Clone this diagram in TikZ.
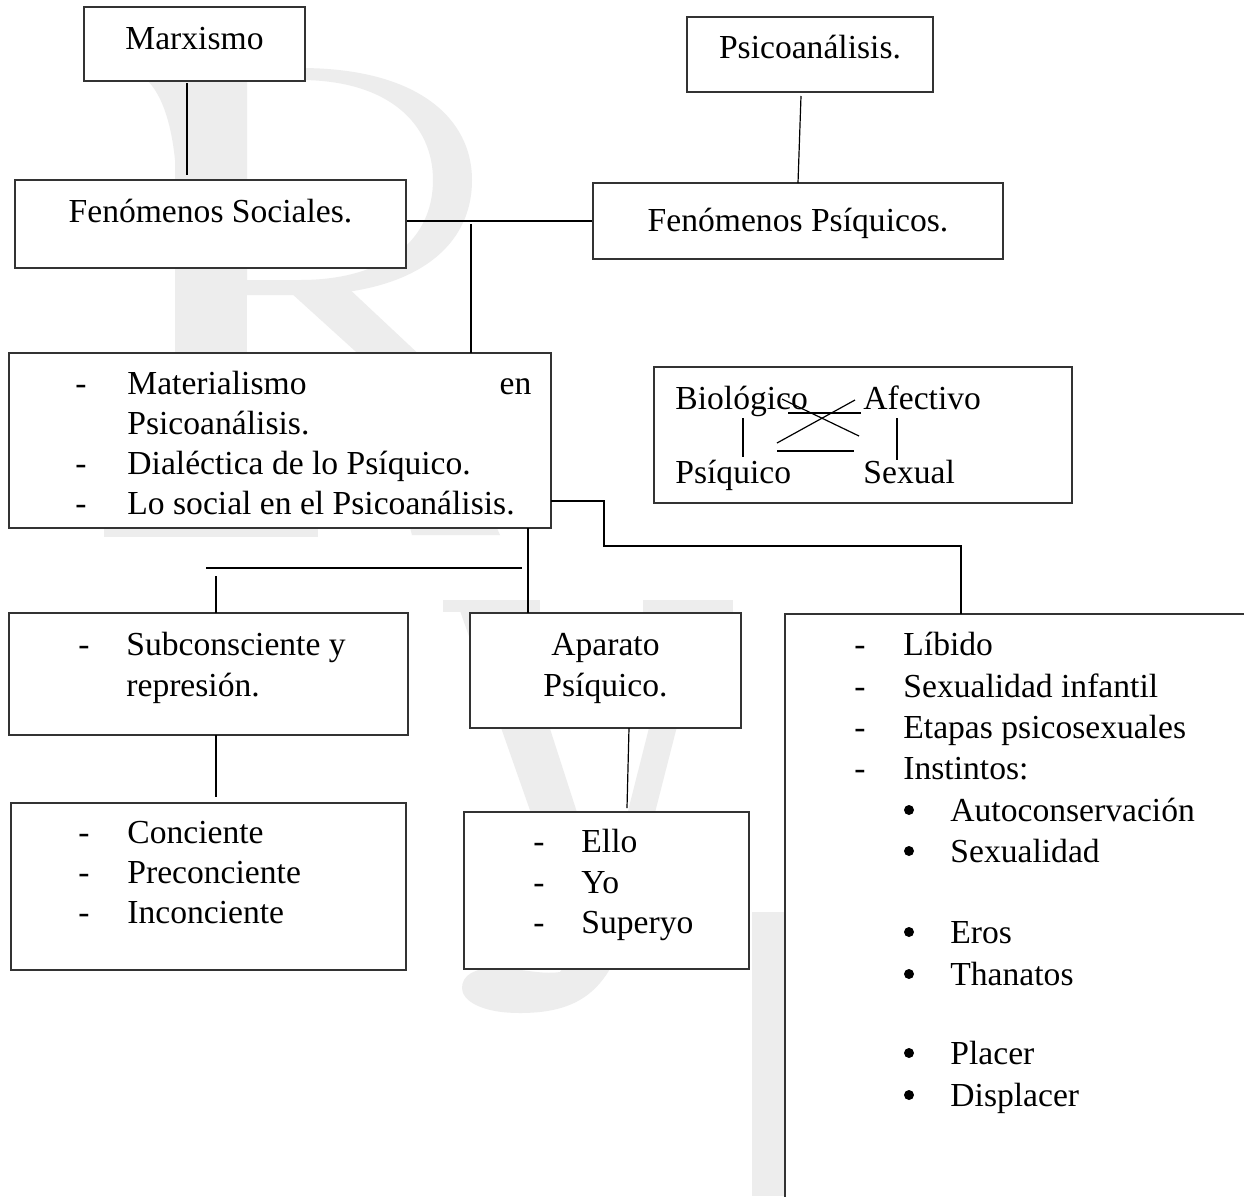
\documentclass[tikz,border=0pt]{standalone}
\usepackage{fontspec}
\setmainfont{Liberation Serif}
\usetikzlibrary{fit}
\tikzset{
  box/.style={draw=black!80, line width=0.9pt, fill=white, inner sep=0pt},
  conn/.style={draw=black, line width=0.6pt},
  txt/.style={inner sep=0pt, font=\fontsize{16.8}{20}\selectfont},
  dot/.style={fill=black, draw=none},
  wm/.style={fill=black!7, draw=none},
}
\begin{document}
\begin{tikzpicture}[x=0.5pt,y=-0.5pt]
\useasboundingbox (0,0) rectangle (1244,1196);
\clip (0,0) rectangle (1244,1196);
\fill[white] (0,0) rectangle (1244,1196);

% ---- watermark ----
% R
\fill[wm] (175,68) rectangle (247,535);
\fill[wm] (135,68) -- (175,68) -- (175,160) .. controls (170,110) and (155,80) .. (135,72) -- cycle;
\fill[wm] (104,522) rectangle (318,537);
\fill[wm,even odd rule] (247,68) -- (300,68) .. controls (420,68) and (472,120) .. (472,180) .. controls (472,250) and (410,295) .. (300,295) -- (247,295) -- cycle
  (247,80) -- (300,80) .. controls (390,80) and (433,125) .. (433,180) .. controls (433,240) and (385,280) .. (300,280) -- (247,280) -- cycle;
\fill[wm] (290,292) -- (345,285) -- (425,360) -- (500,535) -- (412,535) -- (365,360) -- cycle;
% y
\fill[wm] (443,600) rectangle (540,612);
\fill[wm] (643,600) rectangle (733,612);
\fill[wm] (458,605) -- (510,605) -- (615,930) -- (572,930) -- cycle;
\fill[wm] (680,605) -- (708,605) -- (625,930) -- (598,930) -- cycle;
\fill[wm] (572,925) -- (628,925) .. controls (610,985) and (585,1013) .. (520,1013) .. controls (480,1013) and (462,1000) .. (462,988) .. controls (462,975) and (475,968) .. (495,968) .. controls (520,968) and (540,975) .. (560,972) .. controls (570,960) and (572,945) .. (572,925) -- cycle;
% bar
\fill[wm] (752,912) rectangle (800,1196);

% ---- boxes ----
\node[box, fit={(84,7) (305,81)}] (marx) {};
\node[box, fit={(15,180) (406,268)}] (fs) {};
\node[box, fit={(687,17) (933,92)}] (psa) {};
\node[box, fit={(593,183) (1003,259)}] (fp) {};
\node[box, fit={(9,353) (551,528)}] (mat) {};
\node[box, fit={(654,367) (1072,503)}] (bio) {};
\node[box, fit={(9,613) (408,735)}] (sub) {};
\node[box, fit={(470,613) (741,728)}] (apa) {};
\node[box, fit={(11,803) (406,970)}] (con) {};
\node[box, fit={(464,812) (749,969)}] (ello) {};
\node[box, fit={(785,614) (1320,1260)}] (big) {};

% ---- connector end points ----
\coordinate (m1) at (187,83);   \coordinate (m2) at (187,175);
\coordinate (p1) at (801,96);   \coordinate (p2) at (798,183);
\coordinate (v1) at (471,224);  \coordinate (v2) at (471,353);
\coordinate (r1) at (551,501);  \coordinate (r2) at (604,501);
\coordinate (r3) at (604,546);  \coordinate (r4) at (961,546);
\coordinate (r5) at (961,614);
\coordinate (d1) at (528,528);  \coordinate (d2) at (528,613);
\coordinate (h1) at (206,568);  \coordinate (h2) at (522,568);
\coordinate (s1) at (216,576);  \coordinate (s2) at (216,613);
\coordinate (s3) at (216,735);  \coordinate (s4) at (216,797);
\coordinate (a1) at (629,728);  \coordinate (a2) at (627,808);

\draw[conn] (m1) -- (m2);
\draw[conn] (fs.east |- fp.west) -- (fp.west);
\draw[conn] (p1) -- (p2);
\draw[conn] (v1) -- (v2);
\draw[conn] (r1) -- (r2) -- (r3) -- (r4) -- (r5);
\draw[conn] (d1) -- (d2);
\draw[conn] (h1) -- (h2);
\draw[conn] (s1) -- (s2);
\draw[conn] (s3) -- (s4);
\draw[conn] (a1) -- (a2);

% ---- texts ----
\node[txt, anchor=base] (tmarx) at (194.5,49) {Marxismo};
\node[txt, anchor=base] (tfs) at (210.5,222) {Fenómenos Sociales.};
\node[txt, anchor=base] (tpsa) at (810,58) {Psicoanálisis.};
\node[txt, anchor=base] (tfp) at (798,231) {Fenómenos Psíquicos.};

\node[txt, anchor=base west] (md1) at (75,394) {-};
\node[txt, anchor=base west] (mt1) at (127,394) {\makebox[202pt][l]{Materialismo\hfill en}};
\node[txt, anchor=base west] (mt2) at (127,434) {Psicoanálisis.};
\node[txt, anchor=base west] (md3) at (75,474) {-};
\node[txt, anchor=base west] (mt3) at (127,474) {Dialéctica de lo Psíquico.};
\node[txt, anchor=base west] (md4) at (75,514) {-};
\node[txt, anchor=base west] (mt4) at (127,514) {Lo social en el Psicoanálisis.};

\node[txt, anchor=base west] (bb) at (675,409) {Biológico};
\node[txt, anchor=base west] (ba) at (863,409) {Afectivo};
\node[txt, anchor=base west] (bp) at (675,483) {Psíquico};
\node[txt, anchor=base west] (bs) at (863,483) {Sexual};
\coordinate (b1) at (788,413); \coordinate (b2) at (861,413);
\coordinate (b3) at (777,451); \coordinate (b4) at (854,451);
\coordinate (b5) at (782,399); \coordinate (b6) at (859,436);
\coordinate (b7) at (777,443); \coordinate (b8) at (855,400);
\coordinate (b9) at (743,418); \coordinate (b10) at (743,457);
\coordinate (b11) at (897,418); \coordinate (b12) at (897,460);
\draw[conn] (b1) -- (b2);
\draw[conn] (b3) -- (b4);
\draw[conn] (b5) -- (b6);
\draw[conn] (b7) -- (b8);
\draw[conn] (b9) -- (b10);
\draw[conn] (b11) -- (b12);

\node[txt, anchor=base west] (sd1) at (78,655) {-};
\node[txt, anchor=base west] (st1) at (126,655) {Subconsciente y};
\node[txt, anchor=base west] (st2) at (126,696) {represión.};

\node[txt, anchor=base] (at1) at (605.5,655) {Aparato};
\node[txt, anchor=base] (at2) at (605.5,696) {Psíquico.};

\node[txt, anchor=base west] (cd1) at (78,843) {-};
\node[txt, anchor=base west] (ct1) at (127,843) {Conciente};
\node[txt, anchor=base west] (cd2) at (78,883) {-};
\node[txt, anchor=base west] (ct2) at (127,883) {Preconciente};
\node[txt, anchor=base west] (cd3) at (78,923) {-};
\node[txt, anchor=base west] (ct3) at (127,923) {Inconciente};

\node[txt, anchor=base west] (ed1) at (533,852) {-};
\node[txt, anchor=base west] (et1) at (581,852) {Ello};
\node[txt, anchor=base west] (ed2) at (533,893) {-};
\node[txt, anchor=base west] (et2) at (581,893) {Yo};
\node[txt, anchor=base west] (ed3) at (533,933) {-};
\node[txt, anchor=base west] (et3) at (581,933) {Superyo};

\node[txt, anchor=base west] (gd1) at (854,655) {-};
\node[txt, anchor=base west] (gt1) at (903,655) {Líbido};
\node[txt, anchor=base west] (gd2) at (854,697) {-};
\node[txt, anchor=base west] (gt2) at (903,697) {Sexualidad infantil};
\node[txt, anchor=base west] (gd3) at (854,738) {-};
\node[txt, anchor=base west] (gt3) at (903,738) {Etapas psicosexuales};
\node[txt, anchor=base west] (gd4) at (854,779) {-};
\node[txt, anchor=base west] (gt4) at (903,779) {Instintos:};
\node[txt, anchor=base west] (gu1) at (950,821) {Autoconservación};
\node[txt, anchor=base west] (gu2) at (950,862) {Sexualidad};
\node[txt, anchor=base west] (gu3) at (950,943) {Eros};
\node[txt, anchor=base west] (gu4) at (950,985) {Thanatos};
\node[txt, anchor=base west] (gu5) at (950,1064) {Placer};
\node[txt, anchor=base west] (gu6) at (950,1106) {Displacer};
\foreach \yy in {821,862,943,985,1064,1106}
  \fill[dot] (909,\yy-11) circle (5);
\end{tikzpicture}
\end{document}
